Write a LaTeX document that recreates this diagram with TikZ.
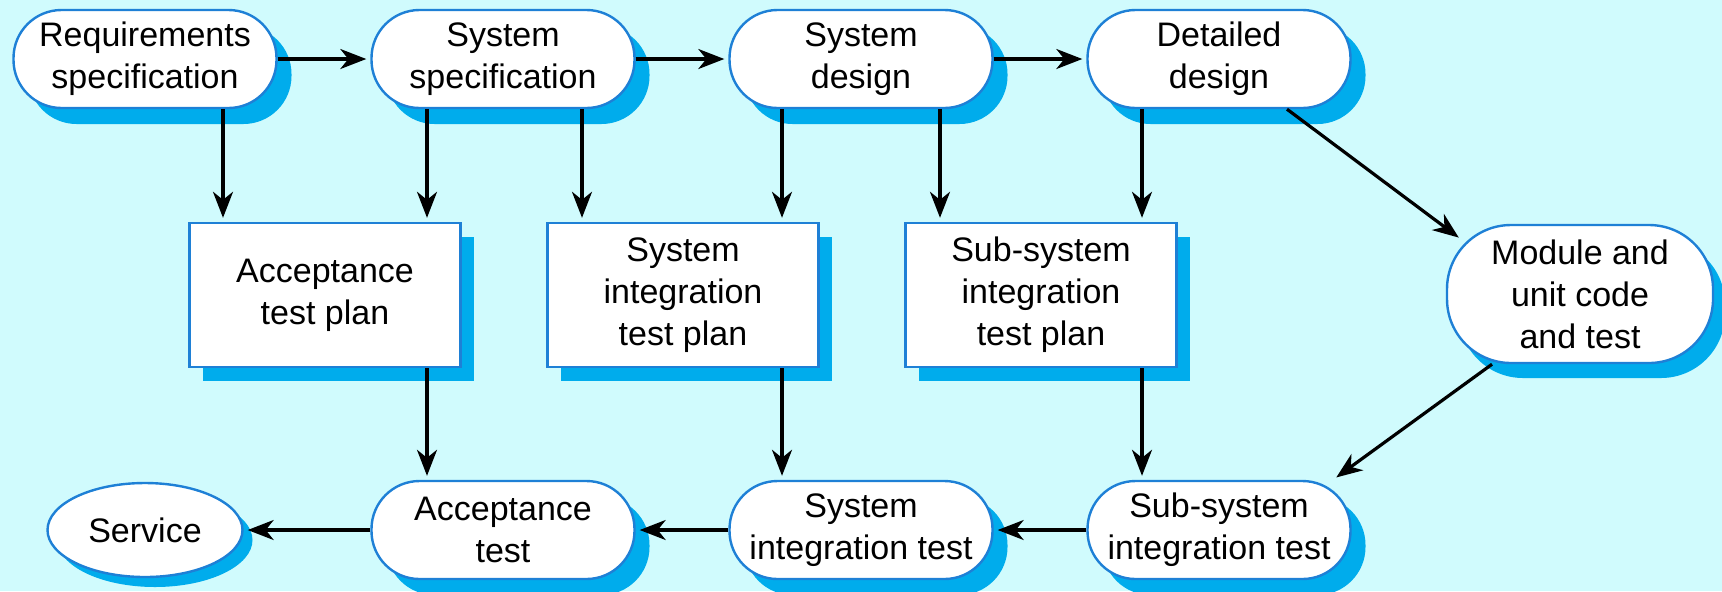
\documentclass[tikz,border=0pt]{standalone}
\usepackage{fontspec}
\setmainfont{Liberation Sans}
\usetikzlibrary{arrows.meta,shadows,shapes.geometric,positioning}
\definecolor{bgcyan}{RGB}{208,251,253}
\definecolor{shadowblue}{RGB}{0,172,236}
\definecolor{lineblue}{RGB}{30,128,214}

\begin{document}
\begin{tikzpicture}[>={Stealth[length=13pt,width=10pt,inset=4pt]},shorten >=2pt,node distance=179pt,x=0.5pt,y=-0.5pt,
    box font/.style={font=\fontsize{17pt}{21pt}\selectfont,align=center,inner sep=2pt},
    stage node/.style={box font,rectangle,rounded corners=24pt,draw=lineblue,line width=1.2pt,fill=white,minimum width=131.5pt,minimum height=49pt,drop shadow={shadow xshift=7.5pt,shadow yshift=-8pt,fill=shadowblue,opacity=1}},
    plan node/.style={box font,rectangle,draw=lineblue,line width=1.2pt,fill=white,minimum width=135.5pt,minimum height=72pt,drop shadow={shadow xshift=6.5pt,shadow yshift=-7pt,fill=shadowblue,opacity=1}},
    code node/.style={box font,rectangle,rounded corners=32pt,draw=lineblue,line width=1.2pt,fill=white,minimum width=133pt,minimum height=69pt,drop shadow={shadow xshift=6pt,shadow yshift=-7.5pt,fill=shadowblue,opacity=1}},
    service node/.style={box font,ellipse,inner sep=0pt,draw=lineblue,line width=1.2pt,fill=white,minimum width=97.5pt,minimum height=47pt,drop shadow={shadow xshift=5pt,shadow yshift=-5pt,fill=shadowblue,opacity=1}}]

    \fill[bgcyan] (0,0) rectangle (1722,591);
    \useasboundingbox (0,0) rectangle (1722,591);

    % specification and design
    \node[stage node] (req) at (145,59) {Requirements\\specification};
    \node[stage node] (sysspec) [right of = req] {System\\specification};
    \node[stage node] (sysdes) [right of = sysspec] {System\\design};
    \node[stage node] (detdes) [right of = sysdes] {Detailed\\design};

    % test plans
    \node[plan node] (accplan) at (325,295) {Acceptance\\test plan};
    \node[plan node] (sysplan) [right of = accplan] {System\\integration\\test plan};
    \node[plan node] (subplan) [right of = sysplan] {Sub-system\\integration\\test plan};
    \node[code node] (module) at (1580,294) {Module and\\unit code\\and test};

    % tests
    \node[stage node] (acc) [below of = sysspec, node distance=235.5pt] {Acceptance\\test};
    \node[stage node] (sysint) [right of = acc] {System\\integration test};
    \node[stage node] (subint) [right of = sysint] {Sub-system\\integration test};
    \node[service node] (service) [left of = acc] {Service};

    \path[->,every edge/.append style={line width=1.6pt}]
        (req) edge (sysspec)
        (sysspec) edge (sysdes)
        (sysdes) edge (detdes)
        ([xshift=39pt]req.south) edge ([xshift=-51pt]accplan.north)
        ([xshift=-38pt]sysspec.south) edge ([xshift=51pt]accplan.north)
        ([xshift=39.5pt]sysspec.south) edge ([xshift=-50.5pt]sysplan.north)
        ([xshift=-39.5pt]sysdes.south) edge ([xshift=49.5pt]sysplan.north)
        ([xshift=39.5pt]sysdes.south) edge ([xshift=-50.5pt]subplan.north)
        ([xshift=-38.5pt]detdes.south) edge ([xshift=50.5pt]subplan.north)
        ([xshift=34pt]detdes.south) edge ([xshift=-59pt,yshift=27pt]module.center)
        ([xshift=51pt]accplan.south) edge ([xshift=-38pt]acc.north)
        ([xshift=49.5pt]sysplan.south) edge ([xshift=-39.5pt]sysint.north)
        ([xshift=50.5pt]subplan.south) edge ([xshift=-38.5pt]subint.north)
        ([xshift=-44pt]module.south) edge ([xshift=57pt]subint.north)
        (subint) edge (sysint)
        (sysint) edge (acc)
        (acc) edge (service)
        ;
\end{tikzpicture}
\end{document}
